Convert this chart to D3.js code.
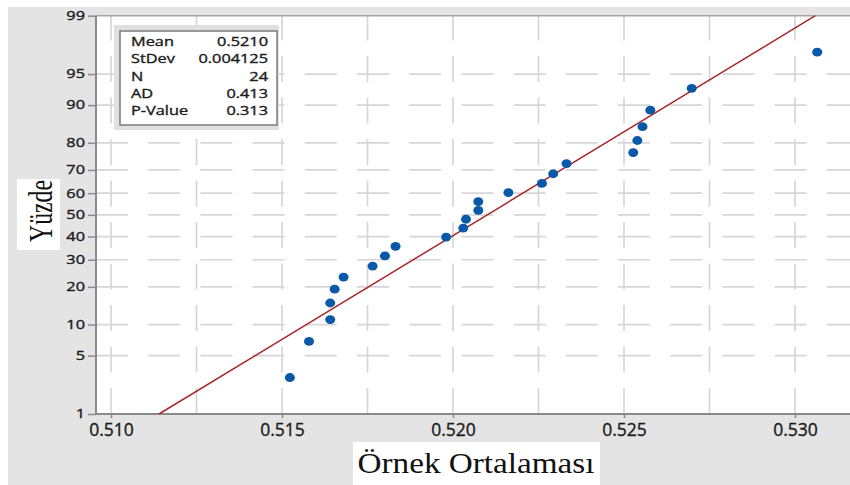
<!DOCTYPE html>
<html>
<head>
<meta charset="utf-8">
<script src="https://cdn.jsdelivr.net/npm/d3@7"></script>
<style>
  body { margin: 0; background: #fff; }
  svg { display: block; }
</style>
</head>
<body>
<svg id="chart" width="850" height="485"></svg>
<script>
// Sample means, sorted ascending
const sampleMeans = [
  0.51523, 0.51579, 0.51641, 0.51641, 0.51654, 0.51680, 0.51765, 0.51801,
  0.51832, 0.51980, 0.52030, 0.52038, 0.52074, 0.52074, 0.52162, 0.52260,
  0.52293, 0.52332, 0.52527, 0.52539, 0.52554, 0.52577, 0.52698, 0.53065
];
// Cumulative percent for each ordered observation
const percents = [
  2.87, 6.97, 11.07, 15.16, 19.26, 23.36, 27.46, 31.56,
  35.66, 39.75, 43.85, 47.95, 52.05, 56.15, 60.25, 64.34,
  68.44, 72.54, 76.64, 80.74, 84.84, 88.93, 93.03, 97.13
];
const xTicks = [0.510, 0.515, 0.520, 0.525, 0.530];
const xGrid = [0.510, 0.5125, 0.515, 0.5175, 0.520, 0.5225, 0.525, 0.5275, 0.530];
const yTicks = [1, 5, 10, 20, 30, 40, 50, 60, 70, 80, 90, 95, 99];
const statLabels = ["Mean", "StDev", "N", "AD", "P-Value"];
const statValues = ["0.5210", "0.004125", "24", "0.413", "0.313"];
const fitMean = 0.5210;
const fitSd = 0.004125;

// Inverse standard normal CDF (Acklam's rational approximation)
function invNorm(p) {
  const a = [-3.969683028665376e+01, 2.209460984245205e+02, -2.759285104469687e+02,
             1.383577518672690e+02, -3.066479806614716e+01, 2.506628277459239e+00];
  const b = [-5.447609879822406e+01, 1.615858368580409e+02, -1.556989798598866e+02,
             6.680131188771972e+01, -1.328068155288572e+01];
  const c = [-7.784894002430293e-03, -3.223964580411365e-01, -2.400758277161838e+00,
             -2.549671010229528e+00, 4.374664141464968e+00, 2.938163982698783e+00];
  const d = [7.784695709041462e-03, 3.224671290700398e-01, 2.445134137142996e+00,
             3.754408661907416e+00];
  const pl = 0.02425, ph = 1 - pl;
  let q, r;
  if (p < pl) {
    q = Math.sqrt(-2 * Math.log(p));
    return (((((c[0]*q+c[1])*q+c[2])*q+c[3])*q+c[4])*q+c[5]) /
           ((((d[0]*q+d[1])*q+d[2])*q+d[3])*q+1);
  }
  if (p <= ph) {
    q = p - 0.5; r = q * q;
    return (((((a[0]*r+a[1])*r+a[2])*r+a[3])*r+a[4])*r+a[5])*q /
           (((((b[0]*r+b[1])*r+b[2])*r+b[3])*r+b[4])*r+1);
  }
  q = Math.sqrt(-2 * Math.log(1 - p));
  return -(((((c[0]*q+c[1])*q+c[2])*q+c[3])*q+c[4])*q+c[5]) /
          ((((d[0]*q+d[1])*q+d[2])*q+d[3])*q+1);
}
const zOf = pct => invNorm(pct / 100);

const svg = d3.select("#chart");
const W = 850, H = 485;
const plot = { left: 96, right: 850, top: 15.7, bottom: 414 };
const sansFont = "'Open Sans', sans-serif";
const serifFont = "'Liberation Serif', 'Times New Roman', serif";

// Scales: x linear in the sample mean, y linear in the normal quantile
const x = d3.scaleLinear().domain([0.510, 0.530]).range([111, 795]);
const y = d3.scaleLinear().domain([zOf(1), zOf(99)]).range([plot.bottom, plot.top]);

// Backgrounds
svg.append("rect").attr("width", W).attr("height", H).attr("fill", "#ffffff");
svg.append("rect").attr("x", 8).attr("y", 7).attr("width", W - 8).attr("height", H - 7).attr("fill", "#e4e4e4");
svg.append("rect")
  .attr("x", plot.left).attr("y", plot.top)
  .attr("width", plot.right - plot.left).attr("height", plot.bottom - plot.top)
  .attr("fill", "#ffffff");

// Gridlines
const grid = svg.append("g").attr("stroke", "#d6d6d6").attr("stroke-width", 1.7).attr("fill", "none");
grid.selectAll("path.h")
  .data(yTicks.filter(t => t !== 1 && t !== 99))
  .join("path").attr("class", "h")
  .attr("d", t => `M${plot.left},${y(zOf(t))}H${plot.right}`)
  .attr("stroke-dasharray", "32,20.2");
grid.selectAll("path.v")
  .data(xGrid)
  .join("path").attr("class", "v")
  .attr("d", v => `M${x(v)},${plot.bottom}V${plot.top}`)
  .attr("stroke-dasharray", "26,15.5");

// Frame line along the top
svg.append("line").attr("x1", plot.left).attr("x2", plot.right)
  .attr("y1", plot.top).attr("y2", plot.top)
  .attr("stroke", "#a6a6a6").attr("stroke-width", 1.5);

// Y axis
const yAxis = d3.axisLeft(y)
  .tickValues(yTicks.map(zOf))
  .tickFormat((d, i) => yTicks[i])
  .tickSize(8).tickPadding(3);
const gy = svg.append("g").attr("transform", `translate(${plot.left},0)`).call(yAxis);
gy.select(".domain").remove();
gy.selectAll(".tick line").attr("stroke", "#8a8a8a").attr("stroke-width", 1.5);
gy.selectAll(".tick text")
  .attr("x", -11 / 1.36)
  .attr("transform", "scale(1.36,1)")
  .attr("font-family", sansFont)
  .attr("font-size", 12)
  .attr("fill", "#1c1c1c")
  .attr("stroke", "#1c1c1c").attr("stroke-width", 0.35);

// X axis
const xAxis = d3.axisBottom(x)
  .tickValues(xTicks)
  .tickFormat(d3.format(".3f"))
  .tickSize(4).tickPadding(6);
const gx = svg.append("g").attr("transform", `translate(0,${plot.bottom})`).call(xAxis);
gx.select(".domain").remove();
gx.selectAll(".tick line").attr("stroke", "#8a8a8a").attr("stroke-width", 1.5);
gx.selectAll(".tick text")
  .attr("y", 10)
  .attr("font-family", sansFont)
  .attr("font-size", 17.5)
  .attr("fill", "#1c1c1c")
  .attr("stroke", "#1c1c1c").attr("stroke-width", 0.35);

// Axis lines
svg.append("line").attr("x1", plot.left).attr("x2", plot.left)
  .attr("y1", plot.top).attr("y2", plot.bottom)
  .attr("stroke", "#8a8a8a").attr("stroke-width", 2);
svg.append("line").attr("x1", plot.left).attr("x2", plot.right)
  .attr("y1", plot.bottom).attr("y2", plot.bottom)
  .attr("stroke", "#8a8a8a").attr("stroke-width", 2);

// Fitted normal line from the stated mean and standard deviation
const fitPts = [1, 99].map(p => [x(fitMean + zOf(p) * fitSd), y(zOf(p))]);
svg.append("path")
  .attr("d", d3.line()(fitPts))
  .attr("stroke", "#a8282c").attr("stroke-width", 1.5).attr("fill", "none");

// Observations
svg.append("g").selectAll("ellipse")
  .data(sampleMeans.map((v, i) => ({ v, p: percents[i] })))
  .join("ellipse")
  .attr("cx", d => x(d.v))
  .attr("cy", d => y(zOf(d.p)))
  .attr("rx", 5).attr("ry", 4.4)
  .attr("fill", "#0a58a8");

// Statistics box
const box = svg.append("g");
box.append("rect").attr("x", 114).attr("y", 25).attr("width", 165).attr("height", 105).attr("fill", "#e0e0e0");
box.append("rect").attr("x", 120).attr("y", 31).attr("width", 157).attr("height", 94)
  .attr("fill", "#ffffff").attr("stroke", "#7a7a7a").attr("stroke-width", 1.5);
statLabels.forEach((lab, i) => {
  const by = 46 + i * 17.3;
  box.append("text")
    .attr("transform", `translate(131,${by}) scale(1.36,1)`)
    .attr("font-family", sansFont).attr("font-size", 12)
    .attr("fill", "#1c1c1c").attr("stroke", "#1c1c1c").attr("stroke-width", 0.35)
    .text(lab);
  box.append("text")
    .attr("transform", `translate(268,${by}) scale(1.36,1)`)
    .attr("text-anchor", "end")
    .attr("font-family", sansFont).attr("font-size", 12)
    .attr("fill", "#1c1c1c").attr("stroke", "#1c1c1c").attr("stroke-width", 0.35)
    .text(statValues[i]);
});

// Axis titles
svg.append("rect").attr("x", 17).attr("y", 179).attr("width", 43).attr("height", 71).attr("fill", "#ffffff");
svg.append("text")
  .attr("transform", "translate(52,211) rotate(-90)")
  .attr("text-anchor", "middle")
  .attr("font-family", serifFont)
  .attr("font-size", 33)
  .attr("textLength", 62).attr("lengthAdjust", "spacingAndGlyphs")
  .attr("fill", "#111")
  .text("Yüzde");

svg.append("rect").attr("x", 353).attr("y", 442).attr("width", 247).attr("height", 43).attr("fill", "#ffffff");
svg.append("text")
  .attr("x", 476).attr("y", 473)
  .attr("text-anchor", "middle")
  .attr("font-family", serifFont)
  .attr("font-size", 30)
  .attr("textLength", 237).attr("lengthAdjust", "spacingAndGlyphs")
  .attr("fill", "#111")
  .text("Örnek Ortalaması");
</script>
</body>
</html>
